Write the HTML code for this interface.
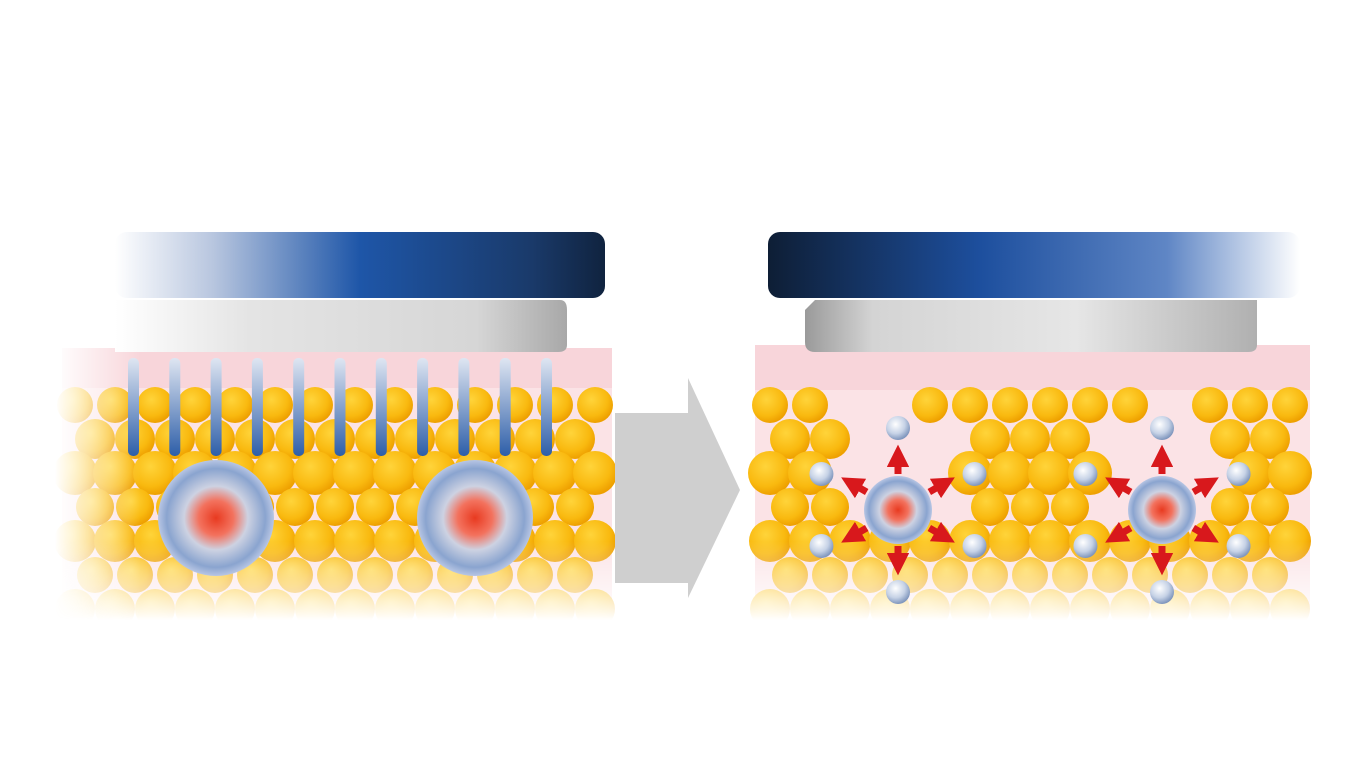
<!DOCTYPE html>
<html><head><meta charset="utf-8"><style>
html,body{margin:0;padding:0;background:#fff;width:1366px;height:768px;overflow:hidden}
svg{display:block}
</style></head><body>
<svg id="s" width="1366" height="768" viewBox="0 0 1366 768">
<defs>
<radialGradient id="fat" cx="40%" cy="35%" r="65%"><stop offset="0" stop-color="#ffd43a"/><stop offset="0.7" stop-color="#f9b90f"/><stop offset="1" stop-color="#eea000"/></radialGradient>
<linearGradient id="barL" x1="0" x2="1"><stop offset="0" stop-color="#fff"/><stop offset="0.2" stop-color="#b8c6df"/><stop offset="0.5" stop-color="#1e56a8"/><stop offset="0.85" stop-color="#1a3a6a"/><stop offset="1" stop-color="#10233f"/></linearGradient>
<linearGradient id="barR" x1="0" x2="1"><stop offset="0" stop-color="#0e1e35"/><stop offset="0.4" stop-color="#1d4f9e"/><stop offset="0.75" stop-color="#5f86c5"/><stop offset="1" stop-color="#fff"/></linearGradient>
<linearGradient id="plateL" x1="0" x2="1"><stop offset="0" stop-color="#fff"/><stop offset="0.3" stop-color="#e4e4e4"/><stop offset="0.8" stop-color="#d6d6d6"/><stop offset="1" stop-color="#a8a8a8"/></linearGradient>
<linearGradient id="plateR" x1="0" x2="1"><stop offset="0" stop-color="#9a9a9a"/><stop offset="0.15" stop-color="#d4d4d4"/><stop offset="0.6" stop-color="#e6e6e6"/><stop offset="1" stop-color="#b0b0b0"/></linearGradient>
<linearGradient id="rod" x1="0" y1="0" x2="0" y2="1"><stop offset="0" stop-color="#dfe6f2"/><stop offset="1" stop-color="#2d5ea8"/></linearGradient>
<radialGradient id="sph" cx="50%" cy="50%" r="50%"><stop offset="0" stop-color="#e83a20"/><stop offset="0.3" stop-color="#f3725e"/><stop offset="0.55" stop-color="#cdd2e2"/><stop offset="0.85" stop-color="#8aa4cf"/><stop offset="1" stop-color="#b8c6e4"/></radialGradient>
<radialGradient id="ball" cx="40%" cy="35%" r="65%"><stop offset="0" stop-color="#fff"/><stop offset="0.6" stop-color="#c6d2e6"/><stop offset="1" stop-color="#7f96bd"/></radialGradient>
<linearGradient id="fadeV" x1="0" y1="0" x2="0" y2="1"><stop offset="0" stop-color="#fff"/><stop offset="0.72" stop-color="#fff"/><stop offset="1" stop-color="#000"/></linearGradient>
<linearGradient id="fadeHL" gradientUnits="userSpaceOnUse" x1="55" y1="0" x2="140" y2="0"><stop offset="0" stop-color="#000"/><stop offset="1" stop-color="#fff"/></linearGradient>
<mask id="mV"><rect x="0" y="340" width="1366" height="280" fill="url(#fadeV)"/></mask>
<mask id="mH"><rect x="0" y="300" width="700" height="340" fill="url(#fadeHL)"/></mask>
<marker id="ah" markerWidth="3.2" markerHeight="3.2" refX="1" refY="1.6" orient="auto"><path d="M0,0 L3.2,1.6 L0,3.2z" fill="#d8181c"/></marker>
</defs>
<g id="left">
 <g mask="url(#mV)"><g mask="url(#mH)"><rect x="62" y="348" width="550" height="262" fill="#fbe3e6"/>
 <rect x="62" y="348" width="550" height="40" fill="#f8d5da"/>
 <g id="fatL"></g></g></g>
 <rect x="115" y="232" width="490" height="66" rx="12" fill="url(#barL)"/>
 <path d="M115,300 H560 Q567,300 567,310 V345 Q567,352 558,352 H115z" fill="url(#plateL)"/>
 <g id="rods"></g>
 <circle cx="216" cy="518" r="58" fill="url(#sph)"/>
 <circle cx="475" cy="518" r="58" fill="url(#sph)"/>
</g>
<g>
 <rect x="615" y="413" width="75" height="170" fill="#cfcfcf"/>
 <path d="M688,378 L740,490 L688,598z" fill="#cfcfcf"/>
</g>
<g id="right">
 <g mask="url(#mV)"><rect x="755" y="345" width="555" height="265" fill="#fbe3e6"/>
 <rect x="755" y="345" width="555" height="45" fill="#f8d5da"/>
 <g id="fatR"></g></g>
 <rect x="768" y="232" width="532" height="66" rx="12" fill="url(#barR)"/>
 <path d="M815,300 H1257 V345 Q1257,352 1248,352 H815 Q805,352 805,342 V310z" fill="url(#plateR)"/>
 <g id="burst"></g>
</g>
</svg>
<script>
var NS='http://www.w3.org/2000/svg';
function el(t,a,p){var e=document.createElementNS(NS,t);for(var k in a)e.setAttribute(k,a[k]);p.appendChild(e);return e;}
var holesR=[[900,470,70],[1162,470,70],[860,420,30],[1100,430,25]];
function fat(g,x0,x1,holes,name){
 var r=20,row=0;
 for(var y=405;y<615;y+=34){
  for(var x=x0+(row%2?20:0);x<x1;x+=40){
   var skip=false;
   holes.forEach(function(h){if(Math.hypot(x-h[0],y-h[1])<h[2])skip=true;});
   if(skip)continue;
   var c=el('circle',{cx:x,cy:y,r:r+((x*7+y*3)%5)-2,fill:'url(#fat)'},g);
   
   
  }
  row++;
 }
}
fat(document.getElementById('fatL'),75,612,[],'fat-cell');
fat(document.getElementById('fatR'),770,1310,holesR,'fat-cell');
var rods=document.getElementById('rods');
for(var i=0;i<11;i++){
 var rr=el('rect',{x:128+i*41.3,y:358,width:11,height:98,rx:5,fill:'url(#rod)'},rods);
 
 
}
var burst=document.getElementById('burst');
[[898,510],[1162,510]].forEach(function(c){
 [[0,-1],[0,1],[-0.87,-0.5],[0.87,-0.5],[-0.87,0.5],[0.87,0.5]].forEach(function(d){
  var a=el('line',{x1:c[0]+d[0]*36,y1:c[1]+d[1]*36,x2:c[0]+d[0]*50,y2:c[1]+d[1]*50,stroke:'#d8181c','stroke-width':7,'marker-end':'url(#ah)'},burst);
  
  
  var b=el('circle',{cx:c[0]+d[0]*(d[0]?88:82),cy:c[1]+d[1]*(d[0]?72:82),r:12,fill:'url(#ball)'},burst);
  
  
 });
 var s=el('circle',{cx:c[0],cy:c[1],r:34,fill:'url(#sph)'},burst);
 
 
});
</script>
</body></html>
